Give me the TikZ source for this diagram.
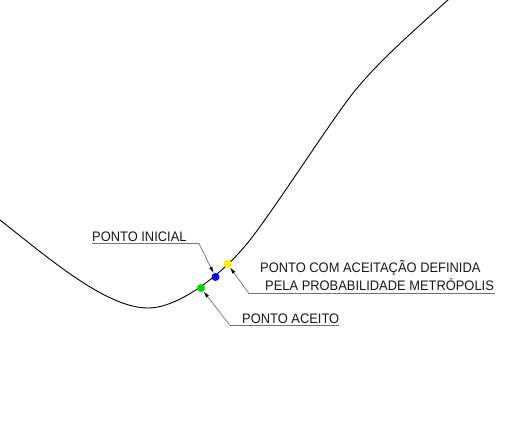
\documentclass[tikz,border=0pt]{standalone}
\usepackage{fontspec}
\setmainfont{Liberation Sans}
\usetikzlibrary{arrows.meta}
\begin{document}
\begin{tikzpicture}[x=1pt,y=-1pt,
  lbl/.style={anchor=base west,inner sep=0pt,font=\fontsize{12.9}{15}\selectfont,text=black!90,yscale=1.07},
  dot/.style={circle,inner sep=0pt,minimum size=8pt,draw=none},
  leader/.style={draw=black!55,line width=0.7pt,-{Latex[black,length=6.5pt,width=3.5pt]}},
  uline/.style={draw=black!55,line width=0.7pt},
  curve/.style={draw=black,line width=0.9pt}]
\useasboundingbox (0,0) rectangle (507,433);
\fill[white] (0,0) rectangle (507,433);
% curve
\draw[curve] (-2,218.5) .. controls (45,255) and (105,308) .. (148,308)
  .. controls (180,308) and (225,272) .. (250,240)
  .. controls (275,208) and (325,130) .. (350,97)
  .. controls (375,64) and (418,27) .. (449,-1);
% points
\node[dot,fill=green!85!black] (pA) at (201,288) {};
\node[dot,fill=blue] (pI) at (215.5,277) {};
\node[dot,fill=yellow] (pY) at (227.5,264) {};
% labels
\node[lbl] (tI) at (92,242) {PONTO INICIAL};
\node[lbl] (tY1) at (260,273) {PONTO COM ACEITAÇÃO DEFINIDA};
\node[lbl] (tY2) at (265,291) {PELA PROBABILIDADE METRÓPOLIS};
\node[lbl] (tA) at (242,324) {PONTO ACEITO};
% leader corners
\coordinate (cI) at (199,243.5);
\coordinate (cY) at (249,293.5);
\coordinate (cA) at (230,325.5);
\coordinate (eI) at (92,243.5);
\coordinate (eY) at (495,293.5);
\coordinate (eA) at (339,325.5);
% leaders
\draw[uline] (eI) -- (cI);
\draw[leader] (cI) -- (pI);
\draw[uline] (eY) -- (cY);
\draw[leader] (cY) -- (pY);
\draw[uline] (eA) -- (cA);
\draw[leader] (cA) -- (pA);
\end{tikzpicture}
\end{document}
